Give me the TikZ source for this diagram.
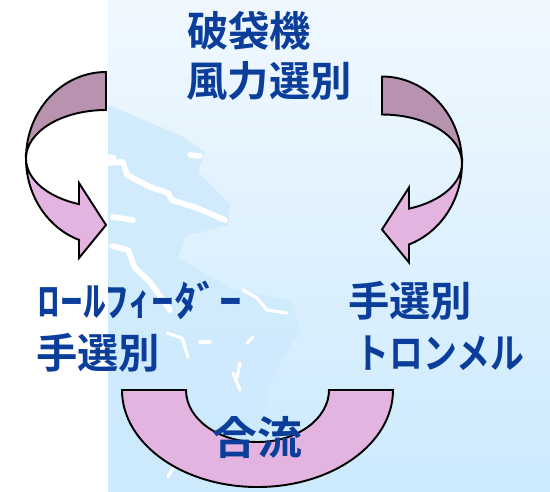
\documentclass[tikz,border=0pt]{standalone}
\usepackage{fontspec}
\newfontfamily\jp{Noto Sans CJK JP}[BoldFont={Noto Sans CJK JP Bold}]
\definecolor{bgtop}{HTML}{F0F8FF}
\definecolor{bgbot}{HTML}{CCEAFD}
\definecolor{land}{HTML}{CDEAFC}
\definecolor{mauve}{HTML}{B793B0}
\definecolor{lilac}{HTML}{E4B4E0}
\definecolor{txtblue}{HTML}{0B3D9B}
\tikzset{
  band/.style={draw=black, line width=1.1pt, line join=miter},
  stream/.style={draw=white, line width=3.2pt, line cap=round, line join=round},
  thinstream/.style={draw=white, line width=1.8pt, line cap=round, line join=round},
  lbl/.style={text=txtblue, font=\jp\bfseries\fontsize{23.5}{28}\selectfont, inner sep=0pt},
}
\begin{document}
\begin{tikzpicture}[x=0.02cm,y=-0.02cm]
\useasboundingbox (0,0) rectangle (550,491);
% background picture
\shade[top color=bgtop, bottom color=bgbot] (108,0) rectangle (550,491);
\fill[land, opacity=0.8] (108,105) -- (180,135) -- (205,152) -- (198,172) -- (230,205) -- (228,225) -- (185,236) -- (178,258) -- (230,288) -- (290,300) -- (300,330) -- (270,380) -- (250,491) -- (108,491) -- cycle;
% white streams
\draw[stream] (108,163) -- (123,162) -- (127,175) -- (150,187) -- (168,193) -- (172,200) -- (197,208) -- (225,220);
\draw[stream] (113,217) -- (133,220);
\draw[stream] (110,157) -- (114,158);
\draw[stream] (112,246) -- (128,250) -- (135,268) -- (150,282) -- (158,293) -- (170,310);
\draw[stream] (190,155) -- (200,156);
\draw[thinstream] (243,290) -- (257,298) -- (267,310) -- (287,313);
\draw[thinstream] (167,333) -- (182,338) -- (188,357);
\draw[thinstream] (200,342) -- (210,342);
\draw[thinstream] (247,343) -- (253,337);
\draw[thinstream] (240,363) -- (237,377);
\draw[thinstream] (233,373) -- (240,390);
\draw[thinstream] (173,468) -- (168,477);
% left curved arrow
\filldraw[band, fill=mauve] (106,72) arc[start angle=270, end angle=180, x radius=80, y radius=86.5]
  arc[start angle=180, end angle=270, x radius=80, y radius=48.5] -- cycle;
\filldraw[band, fill=lilac] (26,158.5) arc[start angle=180, end angle=109.7, x radius=80, y radius=86.5]
  -- (79,258) -- (106,225) -- (79,183) -- (79,204.1)
  arc[start angle=109.7, end angle=180, x radius=80, y radius=48.5] -- cycle;
% right curved arrow
\filldraw[band, fill=mauve] (382,76.5) arc[start angle=270, end angle=360, x radius=80, y radius=86.5]
  arc[start angle=0, end angle=-90, x radius=80, y radius=48.5] -- cycle;
\filldraw[band, fill=lilac] (462,163) arc[start angle=0, end angle=70.3, x radius=80, y radius=86.5]
  -- (409,262.5) -- (382,229.5) -- (409,187.5) -- (409,208.6)
  arc[start angle=70.3, end angle=0, x radius=80, y radius=48.5] -- cycle;
% bottom U arrow
\filldraw[band, fill=lilac] (122,390) arc[start angle=180, end angle=0, x radius=135.5, y radius=97]
  -- (329,390) arc[start angle=0, end angle=180, x radius=71.5, y radius=52] -- cycle;
% labels
\node[lbl] (t1) at (249,31) {破袋機};
\node[lbl] (t2) at (269,81) {風力選別};
\node[lbl] (l1) at (140,300) {\scalebox{1.1}[1]{ﾛｰﾙﾌｨｰﾀﾞｰ}};
\node[lbl] (l2) at (98,353) {手選別};
\node[lbl] (r1) at (410,301) {手選別};
\node[lbl] (r2) at (440,353) {\scalebox{0.82}[1]{トロンメル}};
\node[lbl, font=\jp\bfseries\fontsize{25.5}{30}\selectfont] (m) at (257,437) {合流};
\end{tikzpicture}
\end{document}
